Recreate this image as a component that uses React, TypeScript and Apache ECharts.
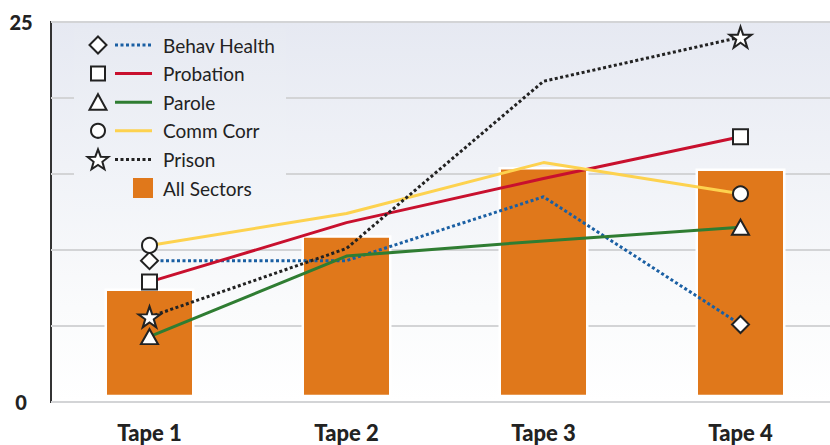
import React, { useEffect, useRef } from "react";
import * as echarts from "echarts";

const categories = ["Tape 1", "Tape 2", "Tape 3", "Tape 4"];
const allSectors = [7.3, 10.8, 15.3, 15.2];
const behavHealth = [9.3, 9.3, 13.5, 5.1];
const probation = [7.9, 11.8, 14.7, 17.45];
const parole = [4.3, 9.6, 10.6, 11.5];
const commCorr = [10.3, 12.4, 15.75, 13.7];
const prison = [5.6, 10.1, 21.1, 24.0];
const yLabelValues = [0, 25];

const STAR =
  "path://M50,0 L61.8,35.3 L98.9,35.3 L69,57.1 L80.2,92.7 L50,70.9 L19.8,92.7 L31,57.1 L1.1,35.3 L38.2,35.3 Z";

const lineDefs = [
  { name: "Behav Health", data: behavHealth, color: "#1a5fa3", dotted: true, symbol: "diamond", size: [17, 17], marker: "diamond" },
  { name: "Probation", data: probation, color: "#c8102e", dotted: false, symbol: "rect", size: [15, 15], marker: "rect" },
  { name: "Parole", data: parole, color: "#2f7d32", dotted: false, symbol: "triangle", size: [17, 15], marker: "triangle" },
  { name: "Comm Corr", data: commCorr, color: "#fdd24f", dotted: false, symbol: "circle", size: [15, 15], marker: "circle" },
  { name: "Prison", data: prison, color: "#222222", dotted: true, symbol: STAR, size: [22, 21], marker: "star" },
];

const ORANGE = "#e0781b";
const FONT = "Lato, 'Noto Sans', sans-serif";

function starPoints(cx: number, cy: number, R: number, r: number) {
  const pts: number[][] = [];
  for (let k = 0; k < 10; k++) {
    const rad = k % 2 === 0 ? R : r;
    const a = -Math.PI / 2 + (k * Math.PI) / 5;
    pts.push([cx + rad * Math.cos(a), cy + rad * Math.sin(a)]);
  }
  return pts;
}

function legendMarker(kind: string, cx: number, cy: number) {
  const style = { fill: "#fff", stroke: "#222", lineWidth: 2 };
  switch (kind) {
    case "diamond":
      return { type: "polygon", z: 5, shape: { points: [[cx, cy - 8.5], [cx + 8.5, cy], [cx, cy + 8.5], [cx - 8.5, cy]] }, style };
    case "rect":
      return { type: "rect", z: 5, shape: { x: cx - 7, y: cy - 7, width: 14, height: 14 }, style };
    case "triangle":
      return { type: "polygon", z: 5, shape: { points: [[cx, cy - 8], [cx + 8.5, cy + 7.5], [cx - 8.5, cy + 7.5]] }, style };
    case "circle":
      return { type: "circle", z: 5, shape: { cx, cy, r: 7 }, style };
    default:
      return { type: "polygon", z: 5, shape: { points: starPoints(cx, cy + 1, 11, 4.6) }, style };
  }
}

export default function App() {
  const ref = useRef<HTMLDivElement>(null);
  useEffect(() => {
    document.body.style.margin = "0";
    document.body.style.overflow = "hidden";
    document.documentElement.style.overflow = "hidden";
    const chart = echarts.init(ref.current!, null, { renderer: "svg" });

    const legendTop = 45;
    const rowH = 28.6;
    const graphics: any[] = [
      {
        type: "rect",
        z: 1,
        shape: { x: 74, y: 28, width: 212, height: 184 },
        style: {
          fill: new echarts.graphic.LinearGradient(0, 0, 0, 1, [
            { offset: 0, color: "#e7eaf2" },
            { offset: 1, color: "#f3f5f9" },
          ]),
        },
      },
    ];
    lineDefs.forEach((d, i) => {
      const y = legendTop + i * rowH;
      graphics.push(legendMarker(d.marker, 98, y));
      graphics.push({
        type: "line",
        z: 5,
        shape: { x1: 115, y1: y, x2: 152, y2: y },
        style: { stroke: d.color, lineWidth: 3, lineDash: d.dotted ? [3, 2.5] : null },
      });
      graphics.push({
        type: "text",
        z: 5,
        x: 163,
        y: y,
        style: { text: d.name, fill: "#222", font: `19px ${FONT}`, verticalAlign: "middle" },
      });
    });
    const yBar = legendTop + lineDefs.length * rowH;
    graphics.push({
      type: "rect",
      z: 5,
      shape: { x: 133, y: yBar - 10, width: 20, height: 20 },
      style: { fill: ORANGE },
    });
    graphics.push({
      type: "text",
      z: 5,
      x: 163,
      y: yBar,
      style: { text: "All Sectors", fill: "#222", font: `19px ${FONT}`, verticalAlign: "middle" },
    });

    const series: any[] = [
      {
        name: "All Sectors",
        type: "custom",
        z: 2,
        data: allSectors.map((v, i) => [i, v]),
        encode: { x: 0, y: 1 },
        renderItem: (params: any, api: any) => {
          const top = api.coord([api.value(0), api.value(1)]);
          const base = api.coord([api.value(0), 0]);
          const w = 87.5;
          const yTop = top[1] - 1.25;
          return {
            type: "rect",
            shape: { x: top[0] - w / 2, y: yTop, width: w, height: base[1] - 6 - yTop },
            style: { fill: ORANGE, stroke: "#fff", lineWidth: 2.5 },
          };
        },
      },
      ...lineDefs.map((d) => ({
        name: d.name,
        type: "line",
        z: 3,
        symbol: d.symbol,
        symbolSize: d.size,
        showSymbol: true,
        data: d.data.map((v, i) =>
          i === 0 || i === d.data.length - 1 ? { value: v } : { value: v, symbol: "none" }
        ),
        lineStyle: {
          color: d.color,
          width: 3,
          type: d.dotted ? [3, 2.5] : "solid",
          cap: "butt",
        },
        itemStyle: { color: "#fff", borderColor: "#222", borderWidth: 2 },
        emphasis: { disabled: true },
      })),
    ];

    chart.setOption({
      animation: false,
      grid: {
        left: 51,
        top: 22,
        bottom: 43,
        width: 788,
        show: true,
        borderWidth: 2,
        borderColor: "#333",
        backgroundColor: new echarts.graphic.LinearGradient(0, 0, 0, 1, [
          { offset: 0, color: "#e6e9f2" },
          { offset: 0.75, color: "#fafbfc" },
          { offset: 1, color: "#ffffff" },
        ]),
      },
      xAxis: {
        type: "category",
        data: categories,
        boundaryGap: true,
        axisLine: { show: false },
        axisTick: { show: false },
        axisLabel: {
          margin: 19,
          color: "#222",
          fontWeight: 900,
          fontSize: 22,
          fontFamily: FONT,
        },
      },
      yAxis: {
        type: "value",
        min: 0,
        max: 25,
        interval: 5,
        axisLine: { show: false },
        axisTick: { show: false },
        splitLine: { show: true, lineStyle: { color: "#d3d4d6", width: 2 } },
        axisLabel: {
          margin: 30,
          align: "center",
          color: "#222",
          fontWeight: 900,
          fontSize: 20,
          fontFamily: FONT,
          formatter: (v: number) => (yLabelValues.includes(v) ? String(v) : ""),
        },
      },
      graphic: graphics,
      series,
    });
    return () => chart.dispose();
  }, []);
  return <div ref={ref} style={{ width: 839, height: 445 }} />;
}
